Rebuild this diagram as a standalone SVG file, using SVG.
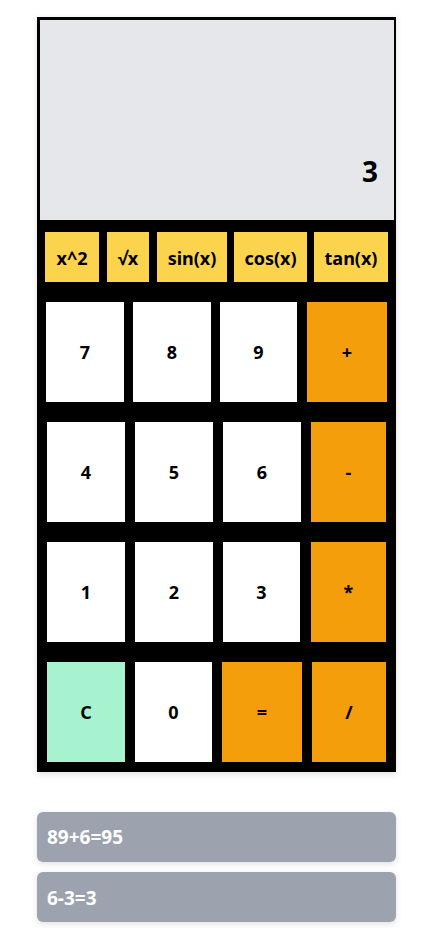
<svg xmlns="http://www.w3.org/2000/svg" width="438" height="928" viewBox="0 0 438 928">
<defs>
<style>
text{font-family:"Noto Sans","Open Sans","Liberation Sans",sans-serif;font-weight:700;}
.k{font-size:18px;fill:#000;text-anchor:middle;}
.w{fill:#ffffff;}
.o{fill:#f59e0b;}
.y{fill:#fcd34d;}
.g{fill:#a7f3d0;}
.h{fill:#9ca3af;}
.ht{font-size:19px;fill:#ffffff;}
</style>
<filter id="sh" x="-10%" y="-10%" width="120%" height="130%">
<feDropShadow dx="0" dy="2" stdDeviation="3" flood-color="#000" flood-opacity="0.12"/>
</filter>
</defs>
<rect width="438" height="928" fill="#ffffff"/>
<g id="calculator">
<rect x="37" y="17" width="359" height="755" fill="#000" filter="url(#sh)"/>
<g id="display">
<rect x="40" y="20" width="354" height="200" fill="#e5e7eb"/>
<text x="378" y="182" style="font-size:28px;text-anchor:end;fill:#000">3</text>
</g>
<g id="btn-sq"><rect class="y" x="45" y="232" width="54" height="50"/><text class="k" x="72" y="265">x^2</text></g>
<g id="btn-sqrt"><rect class="y" x="107" y="232" width="42" height="50"/><text class="k" x="128" y="265">√x</text></g>
<g id="btn-sin"><rect class="y" x="157" y="232" width="70" height="50"/><text class="k" x="192" y="265">sin(x)</text></g>
<g id="btn-cos"><rect class="y" x="234" y="232" width="73" height="50"/><text class="k" x="270.5" y="265">cos(x)</text></g>
<g id="btn-tan"><rect class="y" x="314" y="232" width="74" height="50"/><text class="k" x="351" y="265">tan(x)</text></g>

<g id="btn-7"><rect class="w" x="46" y="302" width="78" height="100"/><text class="k" x="85" y="359">7</text></g>
<g id="btn-8"><rect class="w" x="133" y="302" width="78" height="100"/><text class="k" x="172" y="359">8</text></g>
<g id="btn-9"><rect class="w" x="220" y="302" width="77" height="100"/><text class="k" x="258.5" y="359">9</text></g>
<g id="btn-plus"><rect class="o" x="307" y="302" width="80" height="100"/><text class="k" x="347" y="359">+</text></g>

<g id="btn-4"><rect class="w" x="47" y="422" width="78" height="100"/><text class="k" x="86" y="479">4</text></g>
<g id="btn-5"><rect class="w" x="135" y="422" width="78" height="100"/><text class="k" x="174" y="479">5</text></g>
<g id="btn-6"><rect class="w" x="223" y="422" width="78" height="100"/><text class="k" x="262" y="479">6</text></g>
<g id="btn-minus"><rect class="o" x="311" y="422" width="75" height="100"/><text class="k" x="348.5" y="479">-</text></g>

<g id="btn-1"><rect class="w" x="47" y="542" width="78" height="100"/><text class="k" x="86" y="599">1</text></g>
<g id="btn-2"><rect class="w" x="135" y="542" width="78" height="100"/><text class="k" x="174" y="599">2</text></g>
<g id="btn-3"><rect class="w" x="223" y="542" width="77" height="100"/><text class="k" x="261.5" y="599">3</text></g>
<g id="btn-mul"><rect class="o" x="311" y="542" width="75" height="100"/><text class="k" x="348.5" y="599">*</text></g>

<g id="btn-c"><rect class="g" x="47" y="662" width="78" height="100"/><text class="k" x="86" y="719">C</text></g>
<g id="btn-0"><rect class="w" x="135" y="662" width="77" height="100"/><text class="k" x="173.5" y="719">0</text></g>
<g id="btn-eq"><rect class="o" x="222" y="662" width="80" height="100"/><text class="k" x="262" y="719">=</text></g>
<g id="btn-div"><rect class="o" x="312" y="662" width="74" height="100"/><text class="k" x="349" y="719">/</text></g>
</g>
<g id="connectors"/>
<g id="history-1"><rect class="h" x="37" y="812" width="359" height="50" rx="6" filter="url(#sh)"/><text class="ht" x="47" y="844">89+6=95</text></g>
<g id="history-2"><rect class="h" x="37" y="872" width="359" height="50" rx="6" filter="url(#sh)"/><text class="ht" x="47" y="905">6-3=3</text></g>
</svg>
